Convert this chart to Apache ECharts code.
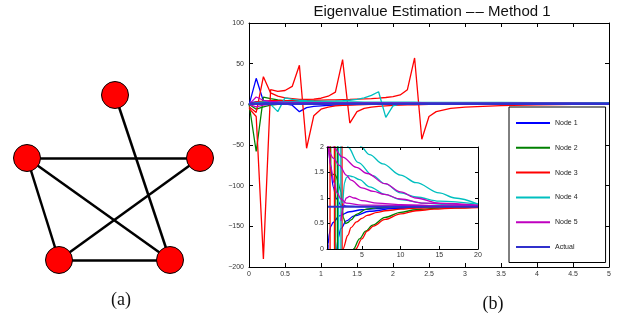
<!DOCTYPE html>
<html>
<head>
<meta charset="utf-8">
<script src="https://cdn.jsdelivr.net/npm/echarts@6/dist/echarts.min.js"></script>
<style>
  html, body { margin: 0; padding: 0; background: #fff; }
  #chart { width: 621px; height: 322px; }
</style>
</head>
<body>
<div id="chart"></div>
<script>
// (a) graph: node positions and edges
const nodePos = [[105, 180], [17, 117], [190, 117], [49, 15], [160, 15]];
const edges = [[0, 4], [1, 2], [1, 3], [1, 4], [2, 3], [3, 4]];

// (b) main plot, time samples and estimates
const mainT = [0, 0.1, 0.2, 0.3, 0.4, 0.5, 0.6, 0.7, 0.8, 0.9, 1.0, 1.1, 1.2, 1.3, 1.4, 1.5, 1.6, 1.7, 1.8, 1.9,
  2.0, 2.1, 2.2, 2.3, 2.4, 2.5, 2.6, 2.8, 3.0, 3.5, 4.0, 4.5, 5.0];
const node1A = [-1, 32, 4, 2.5, 1.5, 0.5, -1, -9, -4, -2.5, -1.8, -1.2, -0.8, -0.5, -0.2, 0, 0.2, 0.3, 0.4, 0.5,
  0.55, 0.6, 0.63, 0.66, 0.69, 0.71, 0.73, 0.76, 0.78, 0.8, 0.82, 0.83, 0.83];
const node1B = [2, 3, 2.5, 2, 1.8, 1.6, 1.5, 1.4, 1.3, 1.2, 1.15, 1.1, 1.05, 1, 1, 0.97, 0.95, 0.93, 0.92, 0.9,
  0.9, 0.89, 0.88, 0.87, 0.86, 0.86, 0.85, 0.85, 0.84, 0.84, 0.83, 0.83, 0.83];
const node2A = [1, -58, 9, 7, 5.5, 4.5, 4, 3.5, 3, 2.7, 2.4, 2.2, 2, 1.8, 1.6, 1.5, 1.4, 1.3, 1.2, 1.1,
  1.0, 0.95, 0.9, 0.88, 0.87, 0.86, 0.85, 0.85, 0.84, 0.84, 0.83, 0.83, 0.83];
const node2B = [0, -6, -3, -1, 0, 0.5, 0.8, 1, 1.2, 1.3, 1.4, 1.45, 1.4, 1.3, 1.2, 1.1, 1, 0.9, 0.8, 0.7,
  0.6, 0.55, 0.5, 0.5, 0.52, 0.55, 0.6, 0.65, 0.7, 0.76, 0.8, 0.82, 0.83];
const node3A = [-5, -15, -190, 18, 16, 17, 22, 48, -54, -14, -6, -3.5, -2, -1.3, -0.8, -0.5, -0.3, -0.1, 0, 0.1,
  0.2, 0.25, 0.3, 0.35, 0.4, 0.45, 0.5, 0.55, 0.6, 0.7, 0.75, 0.78, 0.8];
const node3B = [-3, -10, 34, 14, 10, 8, 7, 6, 6, 6.5, 7.5, 10, 15, 55, -23, -9, -5, -3.5, -2.5, -1.8,
  -1.3, -1, -0.7, -0.5, -0.3, -0.1, 0, 0.1, 0.2, 0.4, 0.5, 0.6, 0.65];
const node3C = [0, 3, 4, 4.5, 4.5, 4.5, 4.6, 4.8, 5, 5, 5.2, 5.4, 5.6, 5.8, 6, 6.3, 6.6, 7, 7.6, 8.4,
  9.5, 11.5, 18, 57, -43, -15, -9, -5, -3.5, -1.5, -0.6, 0, 0.2];
const node4A = [0, 1, 1, 0, -9, 8, 6, 5, 4.5, 4.2, 4, 4, 4.2, 4.5, 5, 6, 8, 11, 15.5, -16,
  -2, 0.5, 0.8, 0.9, 0.95, 1, 1.05, 1.1, 1.15, 1.2, 1.3, 1.35, 1.3];
const node4B = [0, 2, 3, 3.2, 3.3, 3.3, 3.3, 3.2, 3.2, 3.1, 3.1, 3, 3, 3, 2.9, 2.9, 2.8, 2.8, 2.8, 2.7,
  2.7, 2.6, 2.6, 2.6, 2.5, 2.5, 2.5, 2.4, 2.4, 2.3, 2.2, 2.1, 2.0];
const node5A = [0, 9, 5, 3.5, 3, 2.7, 2.5, 2.3, 2.2, 2.1, 2, 2, 1.9, 1.9, 1.85, 1.8, 1.8, 1.78, 1.75, 1.72,
  1.7, 1.68, 1.66, 1.64, 1.62, 1.6, 1.58, 1.55, 1.52, 1.48, 1.45, 1.4, 1.3];
const node5B = [0, -3, -1, 0, 0.5, 0.8, 1, 1.2, 1.3, 1.4, 1.4, 1.3, 1.2, 1.1, 1.05, 1, 1, 1, 1, 0.98,
  0.96, 0.94, 0.92, 0.9, 0.9, 0.89, 0.88, 0.87, 0.87, 0.86, 0.85, 0.85, 0.84];
const actualValue = 0.83;

// inset: [t, estimate] pairs
const insetRange = [0.5, 20];
const insetB1 = [[0.55, -1], [0.65, 0.1], [0.8, 0.3], [1.0, 0.45], [1.3, 0.52], [2.1, 0.65], [3.4, 0.73], [5, 0.77], [8, 0.8], [12, 0.82], [20, 0.83]];
const insetB2 = [[0.6, 2.4], [0.7, 2.0], [0.9, 1.7], [1.3, 1.22], [1.7, 0.99], [2.3, 0.86], [3, 0.84], [5, 0.83], [20, 0.83]];
const insetB3 = [[1.6, -0.5], [1.9, 0.2], [2.3, 0.4], [3, 0.55], [4, 0.65], [6, 0.74], [9, 0.79], [14, 0.82], [20, 0.83]];
const insetG1 = [[0.97, 2.2], [1.0, 1.44], [1.2, 1.46], [1.5, 1.47], [1.7, 1.42], [1.9, 1.33], [2.1, 1.22], [2.3, 1.12], [2.45, 0.9],
  [2.6, 0.62], [2.9, 0.5], [3.2, 0.52], [3.6, 0.57], [4.3, 0.68], [5.6, 0.78], [7, 0.81], [10, 0.83], [20, 0.83]];
const insetG2 = [[3.75, -0.3], [3.9, 0], [4.7, 0.2], [5.5, 0.35], [6.4, 0.47], [8, 0.62], [10, 0.72], [12, 0.77], [15, 0.8], [20, 0.82]];
const insetR1 = [[2.5, -0.1], [2.55, 0], [3.2, 0.27], [3.6, 0.42], [4.3, 0.53], [5, 0.6], [5.7, 0.66], [7, 0.72], [8, 0.75], [10, 0.78], [12, 0.8], [15, 0.82], [20, 0.83]];
const insetR2 = [[4.1, -0.1], [4.2, 0], [5, 0.2], [5.7, 0.35], [6.5, 0.45], [8, 0.58], [10, 0.69], [12, 0.75], [14.3, 0.78], [17, 0.8], [20, 0.81]];
const insetC1 = [[4.3, 2.4], [4.9, 2.0], [6, 1.85], [7.7, 1.67], [10, 1.45], [12, 1.3], [15, 1.1], [17, 1.0], [20, 0.88]];
const insetC2 = [[2.9, 2.3], [3.2, 2.0], [4.5, 1.7], [6.4, 1.44], [8, 1.28], [10, 1.1], [12, 1.02], [15, 0.94], [20, 0.88]];
const insetC3 = [[2.55, 0.9], [2.76, 1.3], [3.0, 1.4], [3.3, 1.44], [3.8, 1.42], [4.7, 1.36], [6, 1.22], [8, 1.07], [10, 0.97], [13, 0.9], [16, 0.87], [20, 0.85]];
const insetM1 = [[1.1, 2.2], [1.3, 2.0], [2.5, 1.8], [4.3, 1.6], [5.7, 1.48], [8, 1.28], [10, 1.12], [12, 1.0], [15, 0.9], [20, 0.86]];
const insetM2 = [[0.65, 2.2], [0.8, 1.9], [1.3, 1.78], [2.1, 1.64], [3.0, 1.45], [3.6, 1.35], [5, 1.2], [6.5, 1.13], [7.9, 1.07], [10, 0.98], [13, 0.9], [20, 0.85]];
const insetM3 = [[2.3, 0.55], [2.5, 0.75], [2.75, 0.93], [3.0, 1.0], [3.4, 1.03], [4, 1.0], [5, 0.95], [7, 0.9], [10, 0.87], [15, 0.85], [20, 0.84]];
const insetM4 = [[0.55, 2.2], [0.7, 1.9], [1.0, 1.6], [1.4, 1.3], [1.8, 1.1], [2.3, 0.98], [3, 0.9], [5, 0.86], [20, 0.84]];
// near-vertical jumps (poles) crossing the inset
const polesG = [[[1.53, 3], [1.57, -3]], [[1.83, 3], [1.87, -3]]];
const polesR = [[[0.88, 3], [0.92, -3]], [[1.45, 3], [1.49, -3]], [[2.43, 3], [2.47, -3]]];
const polesC = [[[1.98, 3], [2.02, -3]], [[2.28, 3], [2.32, -3]]];

const legendNames = ["Node 1", "Node 2", "Node 3", "Node 4", "Node 5", "Actual"];
const colors = {
  "Node 1": "#0000ff", "Node 2": "#008000", "Node 3": "#ff0000",
  "Node 4": "#00bfbf", "Node 5": "#bf00bf", "Actual": "#3030cc",
};

const font = "Liberation Sans, Arial, Helvetica, sans-serif";
const chart = echarts.init(document.getElementById("chart"), null, { renderer: "canvas" });

function mainLine(name, vals, width) {
  return {
    name, type: "line", xAxisIndex: 0, yAxisIndex: 0,
    data: mainT.map((t, i) => [t, vals[i]]),
    symbol: "none", color: colors[name],
    lineStyle: { color: colors[name], width: width || 1.3 },
    z: 2, animation: false,
  };
}
function insetLine(name, pts, smooth, width) {
  return {
    name, type: "line", xAxisIndex: 2, yAxisIndex: 2,
    data: pts, symbol: "none", color: colors[name],
    smooth: smooth ? 0.35 : false, smoothMonotone: "x",
    lineStyle: { color: colors[name], width: width || 1.3 },
    z: 6, animation: false,
  };
}

const mainSeries = [
  mainLine("Node 1", node1A), mainLine("Node 1", node1B),
  mainLine("Node 2", node2A), mainLine("Node 2", node2B),
  mainLine("Node 3", node3A), mainLine("Node 3", node3B), mainLine("Node 3", node3C),
  mainLine("Node 4", node4A), mainLine("Node 4", node4B),
  mainLine("Node 5", node5A), mainLine("Node 5", node5B),
  mainLine("Actual", mainT.map(() => actualValue), 2.5),
];
const insetSeries = [
  insetLine("Node 1", insetB1, true), insetLine("Node 1", insetB2, true), insetLine("Node 1", insetB3, true),
  insetLine("Node 2", insetG1, true), insetLine("Node 2", insetG2, true),
  ...polesG.map(p => insetLine("Node 2", p, false)),
  insetLine("Node 3", insetR1, true), insetLine("Node 3", insetR2, true),
  ...polesR.map(p => insetLine("Node 3", p, false)),
  insetLine("Node 4", insetC1, true), insetLine("Node 4", insetC2, true), insetLine("Node 4", insetC3, true),
  ...polesC.map(p => insetLine("Node 4", p, false)),
  insetLine("Node 5", insetM1, true), insetLine("Node 5", insetM2, true),
  insetLine("Node 5", insetM3, true), insetLine("Node 5", insetM4, true),
  insetLine("Actual", insetRange.map(t => [t, actualValue]), false, 2),
];

const axisLine = { show: true, onZero: false, lineStyle: { color: "#000", width: 1 } };
const tickIn = (len) => ({ show: true, inside: true, length: len, lineStyle: { color: "#000", width: 1 } });
const lbl = (margin, fmt) => ({ fontSize: 7, color: "#333", fontFamily: font, margin, formatter: fmt });
const minusFmt = (v) => String(v).replace("-", "\u2212");

const option = {
  animation: false,
  backgroundColor: "#fff",
  grid: [
    { left: 249, top: 23, width: 360, height: 244 },
    { left: 327, top: 147, width: 151, height: 102, show: true, backgroundColor: "#fff", borderWidth: 0, z: 5 },
    { left: 10, top: 80, width: 210, height: 195 },
  ],
  xAxis: [
    { type: "value", gridIndex: 0, min: 0, max: 5, interval: 0.5, axisLine, axisTick: tickIn(4),
      axisLabel: lbl(4), splitLine: { show: false } },
    { type: "value", gridIndex: 0, position: "top", min: 0, max: 5, interval: 0.5, axisLine, axisTick: tickIn(4),
      axisLabel: { show: false }, splitLine: { show: false } },
    { type: "value", gridIndex: 1, min: insetRange[0], max: insetRange[1], axisLine,
      axisTick: Object.assign(tickIn(3), { customValues: [5, 10, 15, 20] }),
      axisLabel: Object.assign(lbl(3), { customValues: [5, 10, 15, 20] }), splitLine: { show: false }, z: 7 },
    { type: "value", gridIndex: 1, position: "top", min: insetRange[0], max: insetRange[1], axisLine,
      axisTick: Object.assign(tickIn(3), { customValues: [5, 10, 15, 20] }),
      axisLabel: { show: false }, splitLine: { show: false }, z: 7 },
    { type: "value", gridIndex: 2, min: 0, max: 210, show: false },
  ],
  yAxis: [
    { type: "value", gridIndex: 0, min: -200, max: 100, interval: 50, axisLine, axisTick: tickIn(4),
      axisLabel: lbl(5, minusFmt), splitLine: { show: false } },
    { type: "value", gridIndex: 0, position: "right", min: -200, max: 100, interval: 50, axisLine, axisTick: tickIn(4),
      axisLabel: { show: false }, splitLine: { show: false } },
    { type: "value", gridIndex: 1, min: 0, max: 2, interval: 0.5, axisLine, axisTick: tickIn(3),
      axisLabel: lbl(3), splitLine: { show: false }, z: 7 },
    { type: "value", gridIndex: 1, position: "right", min: 0, max: 2, interval: 0.5, axisLine, axisTick: tickIn(3),
      axisLabel: { show: false }, splitLine: { show: false }, z: 7 },
    { type: "value", gridIndex: 2, min: 0, max: 195, show: false },
  ],
  legend: {
    data: legendNames,
    orient: "vertical",
    left: 509, top: 107,
    itemWidth: 34, itemHeight: 14, itemGap: 17.8,
    padding: [12.5, 28, 12, 7],
    icon: "path://M0,0h34v2h-34z",
    itemStyle: { borderWidth: 0 },
    backgroundColor: "#fff", borderColor: "#000", borderWidth: 1,
    textStyle: { fontSize: 7, color: "#222", fontFamily: font },
    selectedMode: false,
    z: 10,
  },
  graphic: [
    { type: "text", x: 432, y: 12, style: { text: "Eigenvalue Estimation \u2013\u200a\u2013 Method 1", fontSize: 15,
      fontFamily: font, fill: "#111", textAlign: "center", textVerticalAlign: "middle" } },
    { type: "text", x: 121, y: 300, style: { text: "(a)", fontSize: 18, fontFamily: "Liberation Serif, DejaVu Serif, serif",
      fill: "#111", textAlign: "center", textVerticalAlign: "middle" } },
    { type: "text", x: 493, y: 304, style: { text: "(b)", fontSize: 18, fontFamily: "Liberation Serif, DejaVu Serif, serif",
      fill: "#111", textAlign: "center", textVerticalAlign: "middle" } },
  ],
  series: [
    ...mainSeries,
    ...insetSeries,
    {
      type: "graph", coordinateSystem: "cartesian2d", xAxisIndex: 4, yAxisIndex: 4,
      symbolSize: 27,
      data: nodePos.map(p => ({ value: p })),
      links: edges.map(e => ({ source: e[0], target: e[1] })),
      itemStyle: { color: "#ff0000", borderColor: "#000", borderWidth: 1 },
      lineStyle: { color: "#000", width: 2.5, opacity: 1, curveness: 0 },
      label: { show: false },
      silent: true, animation: false,
    },
  ],
};
chart.setOption(option);
</script>
</body>
</html>
